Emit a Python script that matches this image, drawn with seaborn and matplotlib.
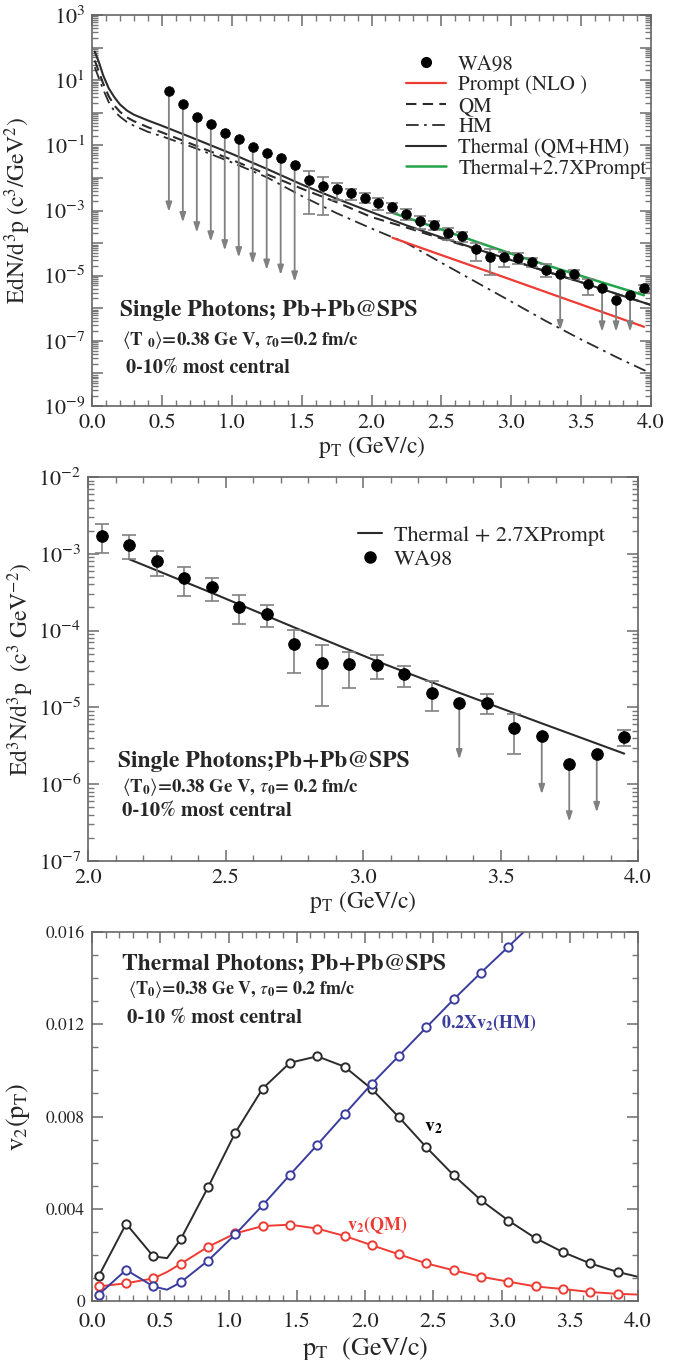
# ============================================================
# SINGLE PHOTONS Pb+Pb @ SPS : SPECTRA + THERMAL v2
# ============================================================

import numpy as np
import pandas as pd
import matplotlib
matplotlib.use("Agg")
import matplotlib.pyplot as plt
import seaborn as sns
from matplotlib.lines import Line2D
from matplotlib.ticker import MultipleLocator, LogLocator, FuncFormatter, NullFormatter

sns.set_style("ticks")
plt.rcParams["font.family"] = ["STIXGeneral", "DejaVu Serif"]
plt.rcParams["mathtext.fontset"] = "stix"

# ================= DATA =================

# WA98 upper limits at low pT (top panel only)
pt_ul_low = [0.55, 0.65, 0.75, 0.85, 0.95, 1.05, 1.15, 1.25, 1.35, 1.45]
wa98_ul_low = [4.6, 1.8, 0.76, 0.44, 0.234, 0.153, 0.091, 0.059, 0.040, 0.025]
wa98_ul_low_tip = [9.1e-4, 4.3e-4, 2.1e-4, 1.1e-4, 5.9e-5, 3.6e-5, 2.3e-5, 1.5e-5, 1.05e-5, 6.5e-6]

# WA98 measured points (nan error = upper limit)
pt_wa98 = [1.55, 1.65, 1.75, 1.85, 1.95, 2.05, 2.15, 2.25, 2.35, 2.45, 2.55, 2.65, 2.75,
           2.85, 2.95, 3.05, 3.15, 3.25, 3.35, 3.45, 3.55, 3.65, 3.75, 3.85, 3.95]
wa98_y = [8.6e-3, 5.6e-3, 4.5e-3, 3.5e-3, 2.5e-3, 1.72e-3, 1.30e-3, 8.0e-4, 4.8e-4, 3.66e-4,
          2.05e-4, 1.64e-4, 6.7e-5, 3.75e-5, 3.63e-5, 3.56e-5, 2.7e-5, 1.52e-5, 1.13e-5,
          1.13e-5, 5.4e-6, 4.3e-6, 1.83e-6, 2.5e-6, 4.1e-6]
wa98_hi = [1.66e-2, 1.05e-2, 7.1e-3, 4.6e-3, 3.4e-3, 2.44e-3, 1.76e-3, 1.09e-3, 6.7e-4, 4.8e-4,
           2.9e-4, 2.18e-4, 1.02e-4, 6.5e-5, 5.3e-5, 4.86e-5, 3.49e-5, 2.23e-5, np.nan,
           1.49e-5, 8.1e-6, np.nan, np.nan, np.nan, 5.1e-6]
wa98_lo = [7.6e-4, 7.2e-4, 2.1e-3, 2.1e-3, 1.66e-3, 1.03e-3, 8.55e-4, 5.2e-4, 2.8e-4, 2.45e-4,
           1.22e-4, 1.11e-4, 2.83e-5, 1.05e-5, 1.81e-5, 2.34e-5, 1.86e-5, 9.1e-6, np.nan,
           8.1e-6, 2.5e-6, np.nan, np.nan, np.nan, 3.1e-6]
# arrow tips of the high pT upper limits
pt_ul_high = [3.35, 3.65, 3.75, 3.85]
ul_high_y = [1.13e-5, 4.3e-6, 1.83e-6, 2.5e-6]
ul_high_tip_top = [2.1e-7, 1.9e-7, 1.9e-7, 1.9e-7]
ul_high_tip_mid = [2.1e-6, 7.4e-7, 3.25e-7, 4.3e-7]

# model curves (top panel)
pt_model = [0.02, 0.05, 0.08, 0.12, 0.16, 0.2, 0.25, 0.3, 0.4, 0.5, 0.75, 1.0, 1.25,
            1.5, 1.75, 2.0, 2.25, 2.5, 2.75, 3.0, 3.25, 3.5, 3.75, 4.0]
thermal = [75, 35, 14, 5.6, 3.0, 1.8, 1.17, 0.87, 0.58, 0.40, 0.15, 0.055, 0.019, 6.3e-3,
           2.3e-3, 8.9e-4, 3.5e-4, 1.5e-4, 6.6e-5, 3.0e-5, 1.35e-5, 6.3e-6, 2.8e-6, 1.26e-6]
qm = [40, 17.8, 7.9, 3.2, 1.66, 1.07, 0.72, 0.55, 0.36, 0.25, 0.095, 0.036, 0.013, 4.7e-3,
      1.8e-3, 6.3e-4, 3.0e-4, 1.38e-4, 6.5e-5, 3.0e-5, 1.35e-5, 6.3e-6, 2.8e-6, 1.26e-6]
hm = [25, 11.2, 5.2, 2.1, 1.12, 0.76, 0.52, 0.40, 0.26, 0.19, 0.079, 0.030, 0.0105, 2.8e-3,
      8.3e-4, 2.8e-4, 1.0e-4, 2.5e-5, 6.3e-6, 1.6e-6, 4.0e-7, 1.1e-7, 3.2e-8, 1.0e-8]

pt_prompt = [2.15, 2.45, 2.75, 3.05, 3.35, 3.65, 3.95]
prompt = [1.46e-4, 5.1e-5, 1.8e-5, 6.3e-6, 2.2e-6, 7.7e-7, 2.7e-7]
thermal_prompt = [8.5e-4, 3.1e-4, 1.1e-4, 4.0e-5, 1.55e-5, 6.2e-6, 2.5e-6]

# elliptic flow (bottom panel)
pt_v2 = [0.05, 0.25, 0.45, 0.55, 0.65, 0.85, 1.05, 1.25, 1.45, 1.65, 1.85, 2.05, 2.25,
         2.45, 2.65, 2.85, 3.05, 3.25, 3.45, 3.65, 3.85, 4.0]
v2_total = [0.00109, 0.00335, 0.00193, 0.00186, 0.00268, 0.00493, 0.00730, 0.00921, 0.01033,
            0.01061, 0.01016, 0.00919, 0.00796, 0.00666, 0.00545, 0.00437, 0.00349, 0.00272,
            0.00212, 0.00163, 0.00126, 0.00105]
v2_qm = [0.00063, 0.00077, 0.00098, 0.00126, 0.00161, 0.00235, 0.00293, 0.00325, 0.00331,
         0.00314, 0.00282, 0.00242, 0.00202, 0.00163, 0.00133, 0.00105, 0.00084, 0.00063,
         0.00052, 0.00039, 0.00031, 0.00028]
v2_hm_scaled = [0.00028, 0.00135, 0.00063, 0.00049, 0.00081, 0.00175, 0.00289, 0.00415,
                0.00547, 0.00677, 0.00810, 0.00942, 0.01064, 0.01187, 0.01308, 0.01424,
                0.01536, 0.01650]

RED = "#ee3b33"
GREEN = "#22a34a"
BLUE = "#3a3d9e"
DARK = "#2b2b2b"
GREY = "#808080"

wa98 = pd.DataFrame({"pt": pt_wa98, "y": wa98_y, "hi": wa98_hi, "lo": wa98_lo})
wa98_err = wa98.dropna()

# ================= FIGURE =================

fig = plt.figure(figsize=(6.74, 13.6), dpi=100)
ax1 = fig.add_axes([92 / 674, 1 - 406 / 1360, 559 / 674, 391 / 1360])
ax2 = fig.add_axes([88 / 674, 1 - 861 / 1360, 550 / 674, 384 / 1360])
ax3 = fig.add_axes([92 / 674, 1 - 1301 / 1360, 546 / 674, 369 / 1360])


def style_axis(ax, ysize=16):
    for sp in ax.spines.values():
        sp.set_color("#666666")
        sp.set_linewidth(1.2)
    ax.tick_params(which="both", direction="in", top=True, right=True, colors="#777777",
                   labelcolor="#222222")
    ax.tick_params(which="major", length=8, width=1.2, labelsize=16, pad=5)
    ax.tick_params(which="minor", length=4.5, width=1.0)
    ax.tick_params(axis="y", which="major", labelsize=ysize)


def draw_ul(ax, x, y, tip):
    for xi, yi, ti in zip(x, y, tip):
        ax.annotate("", xy=(xi, ti), xytext=(xi, yi),
                    arrowprops=dict(arrowstyle="-|>,head_length=0.55,head_width=0.18",
                                    color=GREY, lw=1.3, shrinkA=0, shrinkB=0), zorder=2)


def decade_fmt(only_odd):
    def f(v, pos):
        e = int(round(np.log10(v)))
        if only_odd and e % 2 == 0:
            return ""
        return r"$10^{%d}$" % e
    return FuncFormatter(f)


# ------------------------------------------------------------
# TOP PANEL : FULL SPECTRUM
# ------------------------------------------------------------

sns.lineplot(x=pt_model, y=thermal, color=DARK, lw=1.5, estimator=None, sort=False, ax=ax1)
sns.lineplot(x=pt_model, y=qm, color=DARK, lw=1.5, ls=(0, (5, 3)), estimator=None,
             sort=False, ax=ax1)
sns.lineplot(x=pt_model, y=hm, color=DARK, lw=1.3, ls=(0, (7, 3, 1.5, 3)), estimator=None,
             sort=False, ax=ax1)
sns.lineplot(x=pt_prompt, y=prompt, color=RED, lw=1.6, estimator=None, sort=False, ax=ax1)
sns.lineplot(x=pt_prompt, y=thermal_prompt, color=GREEN, lw=1.8, estimator=None,
             sort=False, ax=ax1)

draw_ul(ax1, pt_ul_low, wa98_ul_low, wa98_ul_low_tip)
draw_ul(ax1, pt_ul_high, ul_high_y, ul_high_tip_top)
ax1.errorbar(wa98_err["pt"], wa98_err["y"],
             yerr=[wa98_err["y"] - wa98_err["lo"], wa98_err["hi"] - wa98_err["y"]],
             fmt="none", ecolor=GREY, elinewidth=1.2, capsize=4.5, capthick=1.2, zorder=2)
sns.scatterplot(x=pt_ul_low + pt_wa98, y=wa98_ul_low + wa98_y, color="black", s=48,
                edgecolor="black", zorder=4, ax=ax1)

ax1.set_yscale("log")
ax1.set_xlim(0, 4.0)
ax1.set_ylim(1e-9, 1e3)
ax1.xaxis.set_major_locator(MultipleLocator(0.5))
ax1.xaxis.set_minor_locator(MultipleLocator(0.1))
ax1.xaxis.set_major_formatter(FuncFormatter(lambda v, p: "%.1f" % v))
ax1.yaxis.set_major_locator(LogLocator(base=10, numticks=40))
ax1.yaxis.set_minor_locator(LogLocator(base=10, subs=np.arange(2, 10), numticks=40))
ax1.yaxis.set_major_formatter(decade_fmt(True))
ax1.yaxis.set_minor_formatter(NullFormatter())
style_axis(ax1)
ax1.set_xlabel(r"p$_\mathrm{T}$ (GeV/c)", fontsize=17, labelpad=1)
ax1.set_ylabel(r"EdN/d$^3$p (c$^3$/GeV$^2$)", fontsize=17)
ax1.yaxis.set_label_coords(-0.105, 0.5)

handles = [
    Line2D([], [], ls="none", marker="o", color="black", markersize=7),
    Line2D([], [], color=RED, lw=1.6),
    Line2D([], [], color=DARK, lw=1.5, ls=(0, (5, 3))),
    Line2D([], [], color=DARK, lw=1.3, ls=(0, (7, 3, 1.5, 3))),
    Line2D([], [], color=DARK, lw=1.5),
    Line2D([], [], color=GREEN, lw=1.8),
]
labels = ["WA98", "Prompt (NLO )", "QM", "HM", "Thermal (QM+HM)", "Thermal+2.7XPrompt"]
ax1.legend(handles, labels, loc="upper left", bbox_to_anchor=(0.562, 0.898), frameon=False,
           fontsize=15, handlelength=1.9, handletextpad=0.6, labelspacing=0.05,
           borderpad=0, borderaxespad=0)

ax1.text(0.05, 0.243, "Single Photons; Pb+Pb@SPS", transform=ax1.transAxes,
         fontsize=17, fontweight="bold", va="center")
ax1.text(0.054, 0.169, r"$\langle$T $_\mathbf{0}$$\rangle$=0.38 Ge V, $\tau_\mathbf{0}$=0.2 fm/c",
         transform=ax1.transAxes, fontsize=13.5, fontweight="bold", va="center")
ax1.text(0.061, 0.097, "0-10% most central", transform=ax1.transAxes,
         fontsize=14.5, fontweight="bold", va="center")

# ------------------------------------------------------------
# MIDDLE PANEL : HIGH pT ZOOM
# ------------------------------------------------------------

sns.lineplot(x=pt_prompt, y=thermal_prompt, color=DARK, lw=1.5, estimator=None,
             sort=False, ax=ax2)
draw_ul(ax2, pt_ul_high, ul_high_y, ul_high_tip_mid)
mid_err = wa98_err[wa98_err["pt"] > 2.0]
ax2.errorbar(mid_err["pt"], mid_err["y"],
             yerr=[mid_err["y"] - mid_err["lo"], mid_err["hi"] - mid_err["y"]],
             fmt="none", ecolor=GREY, elinewidth=1.2, capsize=5, capthick=1.2, zorder=2)
mid_pts = wa98[wa98["pt"] > 2.0]
sns.scatterplot(x=mid_pts["pt"], y=mid_pts["y"], color="black", s=70, edgecolor="black",
                zorder=4, ax=ax2)

ax2.set_yscale("log")
ax2.set_xlim(2.0, 4.0)
ax2.set_ylim(1e-7, 1e-2)
ax2.xaxis.set_major_locator(MultipleLocator(0.5))
ax2.xaxis.set_minor_locator(MultipleLocator(0.1))
ax2.xaxis.set_major_formatter(FuncFormatter(lambda v, p: "%.1f" % v))
ax2.yaxis.set_major_locator(LogLocator(base=10, numticks=20))
ax2.yaxis.set_minor_locator(LogLocator(base=10, subs=np.arange(2, 10), numticks=20))
ax2.yaxis.set_major_formatter(decade_fmt(False))
ax2.yaxis.set_minor_formatter(NullFormatter())
style_axis(ax2)
ax2.set_xlabel(r"p$_\mathrm{T}$ (GeV/c)", fontsize=17, labelpad=1)
ax2.set_ylabel(r"Ed$^3$N/d$^3$p  (c$^3$ GeV$^{-2}$)", fontsize=17)
ax2.yaxis.set_label_coords(-0.095, 0.5)

handles2 = [Line2D([], [], color=DARK, lw=1.5),
            Line2D([], [], ls="none", marker="o", color="black", markersize=8)]
ax2.legend(handles2, ["Thermal + 2.7XPrompt", "WA98"], loc="upper left",
           bbox_to_anchor=(0.49, 0.875), frameon=False, fontsize=16, handlelength=1.1,
           handletextpad=0.55, labelspacing=0.15, borderpad=0, borderaxespad=0)

ax2.text(0.055, 0.26, "Single Photons;Pb+Pb@SPS", transform=ax2.transAxes,
         fontsize=17, fontweight="bold", va="center")
ax2.text(0.062, 0.193, r"$\langle$T$_\mathbf{0}$$\rangle$=0.38 Ge V, $\tau_\mathbf{0}$= 0.2 fm/c",
         transform=ax2.transAxes, fontsize=13.5, fontweight="bold", va="center")
ax2.text(0.062, 0.13, "0-10% most central", transform=ax2.transAxes,
         fontsize=15, fontweight="bold", va="center")

# ------------------------------------------------------------
# BOTTOM PANEL : v2 OF THERMAL PHOTONS
# ------------------------------------------------------------

marks = [i for i in range(len(pt_v2)) if pt_v2[i] not in (0.55, 4.0)]
for vals, col in [(v2_total, DARK), (v2_qm, RED), (v2_hm_scaled, BLUE)]:
    xs = pt_v2[:len(vals)]
    mk = [i for i in marks if i < len(vals)]
    sns.lineplot(x=xs, y=vals, color=col, lw=1.4, marker="o", markevery=mk, markersize=6,
                 markerfacecolor="white", markeredgecolor=col, markeredgewidth=1.4,
                 estimator=None, sort=False, ax=ax3)

ax3.set_xlim(0, 4.0)
ax3.set_ylim(0, 0.016)
ax3.xaxis.set_major_locator(MultipleLocator(0.5))
ax3.xaxis.set_minor_locator(MultipleLocator(0.1))
ax3.xaxis.set_major_formatter(FuncFormatter(lambda v, p: "%.1f" % v))
ax3.yaxis.set_major_locator(MultipleLocator(0.004))
ax3.yaxis.set_minor_locator(MultipleLocator(0.001))
ax3.yaxis.set_major_formatter(FuncFormatter(lambda v, p: "0" if v == 0 else "%.3f" % v))
style_axis(ax3, ysize=12.5)
ax3.tick_params(axis="x", which="major", pad=8)
ax3.set_xlabel(r"p$_\mathrm{T}$  (GeV/c)", fontsize=19, labelpad=2)
ax3.set_ylabel(r"v$_2$(p$_\mathrm{T}$)", fontsize=19)
ax3.yaxis.set_label_coords(-0.11, 0.5)

ax3.text(0.055, 0.913, "Thermal Photons; Pb+Pb@SPS", transform=ax3.transAxes,
         fontsize=17, fontweight="bold", va="center")
ax3.text(0.066, 0.843, r"$\langle$T$_\mathbf{0}$$\rangle$=0.38 Ge V, $\tau_\mathbf{0}$= 0.2 fm/c",
         transform=ax3.transAxes, fontsize=13, fontweight="bold", va="center")
ax3.text(0.064, 0.767, "0-10 % most central", transform=ax3.transAxes,
         fontsize=15, fontweight="bold", va="center")
ax3.text(0.639, 0.753, r"0.2Xv$_\mathbf{2}$(HM)", transform=ax3.transAxes, color=BLUE,
         fontsize=13, fontweight="bold", va="center")
ax3.text(0.608, 0.469, r"v$_\mathbf{2}$", transform=ax3.transAxes, color="black",
         fontsize=14, fontweight="bold", va="center")
ax3.text(0.467, 0.206, r"v$_\mathbf{2}$(QM)", transform=ax3.transAxes, color=RED,
         fontsize=13, fontweight="bold", va="center")

fig.savefig("out.png", dpi=100)
